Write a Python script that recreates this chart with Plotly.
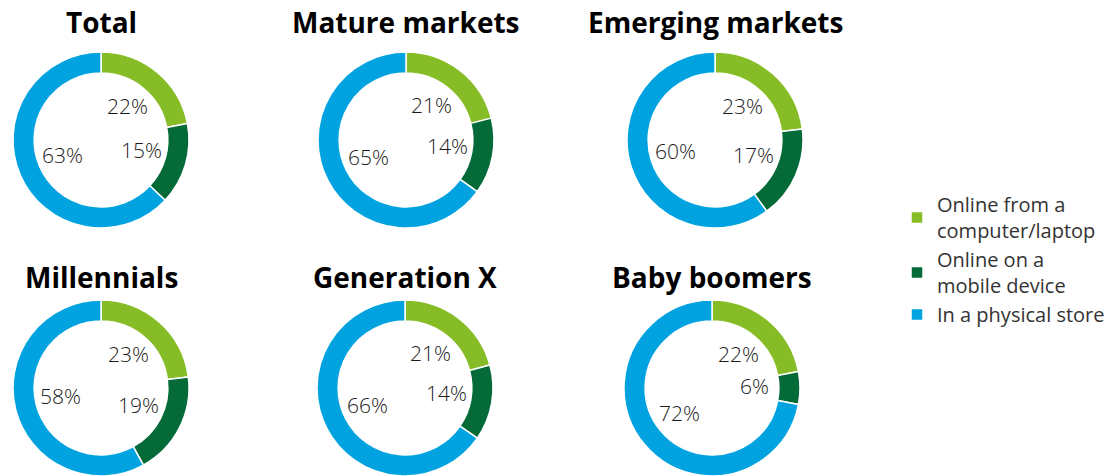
import math
import plotly.graph_objects as go

categories = ["Online from a<br>computer/laptop", "Online on a<br>mobile device", "In a physical store"]
colors = ["#86BC25", "#046A38", "#00A3E0"]

groups = ["Total", "Mature markets", "Emerging markets", "Millennials", "Generation X", "Baby boomers"]
total = [22, 15, 63]
mature = [21, 14, 65]
emerging = [23, 17, 60]
millennials = [23, 19, 58]
genx = [21, 14, 66]
boomers = [22, 6, 72]
series = [total, mature, emerging, millennials, genx, boomers]

OFF = 0  # page body margin removed by post_script
W, H = 1119 - OFF, 476 - OFF
# layout: centres (page px) and outer radius (px)
centers = [(101, 140), (406, 140), (715, 140), (101, 388), (405, 388), (712, 388)]
R = 88
title_y = [22, 22, 22, 277, 277, 277]
label_r = 42
label_up = 2


def px(x, y):
    return (x - OFF) / W, 1 - (y - OFF) / H


fig = go.Figure()
annotations = []
for i, (name, vals) in enumerate(zip(groups, series)):
    cx, cy = centers[i]
    x0, y1 = px(cx - R, cy - R)
    x1, y0 = px(cx + R, cy + R)
    fig.add_trace(go.Pie(
        labels=categories, values=vals, hole=0.76, sort=False,
        direction="clockwise", rotation=0,
        marker=dict(colors=colors, line=dict(color="white", width=1.5)),
        textinfo="none", hoverinfo="label+percent",
        domain=dict(x=[x0, x1], y=[y0, y1]), showlegend=(i == 0), name=name,
    ))
    tx, ty = px(cx, title_y[i])
    annotations.append(dict(
        text="<b>" + name + "</b>", x=tx, y=ty,
        xref="paper", yref="paper", showarrow=False, xanchor="center", yanchor="middle",
        font=dict(family="Open Sans", size=28, color="#000000"),
    ))
    tot = sum(vals)
    cum = 0
    for v in vals:
        mid = (cum + v / 2) / tot
        cum += v
        ang = math.pi / 2 - 2 * math.pi * mid
        lx, ly = px(cx + label_r * math.cos(ang), cy - label_r * math.sin(ang) - label_up)
        annotations.append(dict(
            text=f"{v}%", x=lx, y=ly, xref="paper", yref="paper",
            showarrow=False, xanchor="center", yanchor="middle",
            font=dict(family="Open Sans", size=21, color="#1a1a1a", weight=300),
        ))

lgx, lgy = px(897, 185)
fig.update_layout(
    width=W, height=H, margin=dict(l=0, r=0, t=0, b=0),
    paper_bgcolor="white", plot_bgcolor="white",
    annotations=annotations,
    legend=dict(x=lgx, y=lgy, xanchor="left", yanchor="top",
                font=dict(family="Open Sans", size=20, color="#333333"),
                traceorder="normal"),
)
fig.write_html("out.html", config={"displayModeBar": False},
               post_script="document.body.style.margin='0';")
